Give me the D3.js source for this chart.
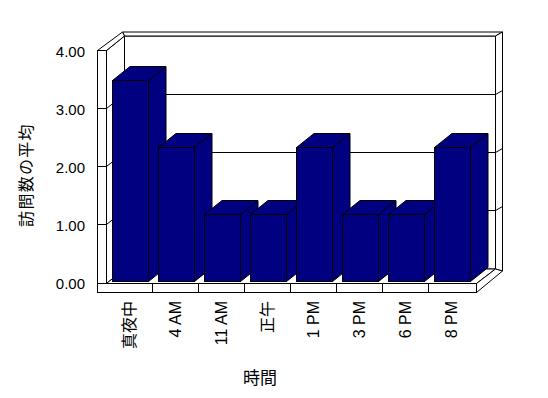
<!DOCTYPE html>
<html>
<head>
<meta charset="utf-8">
<script src="https://cdn.jsdelivr.net/npm/d3@7"></script>
<style>
  body { margin: 0; background: #fff; }
  svg { display: block; }
</style>
</head>
<body>
<div id="chart"></div>
<script>

// chart data
let categories = ["真夜中", "4 AM", "11 AM", "正午", "1 PM", "3 PM", "6 PM", "8 PM"];
let values = [3.5, 2.33, 1.17, 1.17, 2.33, 1.17, 1.17, 2.33];
let tickValues = [0, 1, 2, 3, 4];
let yTitle = "訪問数の平均";
let xTitle = "時間";

let width = 548,
    height = 398;

let latin = "'Liberation Sans', Arial, sans-serif",
    cjk = "'Noto Sans CJK JP', sans-serif";

// frame geometry (front plane / back plane)
let outerL = 97, innerL = 106, frontR = 476,
    backL = 124, backR = 495, backOuter = 502,
    depth = [18, -14.5],       // front -> back wall
    barDepth = [17.5, -14];

let navy = "#000080";

let x = d3.scaleBand()
    .domain(categories)
    .range([innerL, innerL + 46 * categories.length]);

let yFront = d3.scaleLinear().domain([0, 4]).range([282, 50]);
let yBack = d3.scaleLinear().domain([0, 4]).range([282 + depth[1], 50 + depth[1]]);
let yBar = d3.scaleLinear().domain([0, 4]).range([281, 51]);

let svg = d3.select("#chart")
    .append("svg")
    .attr("width", width)
    .attr("height", height);

let frame = svg.append("g")
    .attr("fill", "#fff")
    .attr("stroke", "#000")
    .attr("stroke-width", 1);

let top4 = yFront(4), topB = yBack(4), floorF = yFront(0) + 1, floorB = yBack(0) + 1;
let pts = arr => arr.map(p => [p[0] + 0.5, p[1] + 0.5]).join(" ");

// back wall face
frame.append("rect")
    .attr("x", backL + 0.5).attr("y", topB + 0.5)
    .attr("width", backR - backL).attr("height", floorB - topB);

// back wall top slab + right slab
frame.append("polygon")
    .attr("points", pts([[outerL + 25, topB - 4], [backOuter, topB - 4], [backR, topB], [backL, topB]]));
frame.append("polygon")
    .attr("points", pts([[backR, topB], [backOuter, topB - 4], [backOuter, floorB + 2], [backR, floorB]]));

// left wall: inner face, top slab, front edge
frame.append("polygon")
    .attr("points", pts([[innerL, top4], [backL, topB], [backL, floorB], [innerL, floorF]]));
frame.append("polygon")
    .attr("points", pts([[outerL, top4], [outerL + 25, topB - 4], [backL, topB], [innerL, top4]]));
frame.append("rect")
    .attr("x", outerL + 0.5).attr("y", top4 + 0.5)
    .attr("width", innerL - outerL).attr("height", floorF - top4 + 9);

// gridlines with ticks on the left wall
frame.selectAll(".grid")
    .data(tickValues.filter(d => d > 0 && d < 4))
    .join("path")
    .attr("class", "grid")
    .attr("fill", "none")
    .attr("d", d => {
        let yf = Math.round(yFront(d)) + 0.5, yb = Math.round(yBack(d)) + 0.5;
        return `M${outerL + 0.5},${yf}H${innerL + 0.5}L${backL + 0.5},${yb}H${backR + 0.5}L${backOuter + 0.5},${yb - 4}`;
    });

// floor slab
frame.append("polygon")
    .attr("points", pts([[innerL, floorF], [frontR, floorF], [backR, floorB], [backL, floorB]]));
frame.append("polygon")
    .attr("points", pts([[frontR, floorF], [backR, floorB], [backOuter, floorB + 2], [frontR, floorF + 9]]));
frame.append("rect")
    .attr("x", outerL + 0.5).attr("y", floorF + 0.5)
    .attr("width", frontR - outerL).attr("height", 9);

frame.selectAll(".sep")
    .data(categories.slice(1))
    .join("line")
    .attr("class", "sep")
    .attr("x1", d => x(d) + 0.5).attr("x2", d => x(d) + 0.5)
    .attr("y1", floorF + 0.5).attr("y2", floorF + 9.5);

// bars
let bar = svg.append("g")
    .attr("fill", navy)
    .attr("stroke", "#000")
    .selectAll("g")
    .data(categories.map((c, i) => ({ c, v: values[i] })))
    .join("g");

let bx = d => Math.round(x(d.c)) + 6.5,
    bw = 36,
    by = d => Math.round(yBar(d.v)) + 0.5,
    bb = yBar(0) + 0.5;

bar.append("polygon")
    .attr("points", d => [[bx(d) + bw, bb], [bx(d) + bw, by(d)], [bx(d) + bw + barDepth[0], by(d) + barDepth[1]], [bx(d) + bw + barDepth[0], bb + barDepth[1]]].join(" "));
bar.append("polygon")
    .attr("points", d => [[bx(d), by(d)], [bx(d) + barDepth[0], by(d) + barDepth[1]], [bx(d) + bw + barDepth[0], by(d) + barDepth[1]], [bx(d) + bw, by(d)]].join(" "));
bar.append("rect")
    .attr("x", bx).attr("y", by)
    .attr("width", bw).attr("height", d => bb - by(d));

// value axis labels
let yAxis = svg.append("g")
    .attr("transform", "translate(85,2)")
    .call(d3.axisLeft(yFront).tickValues(tickValues).tickFormat(d3.format(".2f")).tickSize(0).tickPadding(0));
yAxis.select(".domain").remove();
yAxis.selectAll("text")
    .style("font-size", "15px")
    .style("font-family", latin);

// category labels
let xAxis = svg.append("g")
    .attr("transform", "translate(0,301)")
    .call(d3.axisBottom(x).tickSize(0).tickPadding(0));
xAxis.select(".domain").remove();
xAxis.selectAll("text")
    .style("font-size", "16px")
    .style("font-family", d => /[^\x00-\x7f]/.test(d) ? cjk : latin)
    .attr("transform", "rotate(-90)")
    .attr("x", 0).attr("y", 0).attr("dy", "0.35em")
    .attr("text-anchor", "end");

// titles
svg.append("text")
    .attr("transform", "translate(26,175) rotate(-90)")
    .attr("text-anchor", "middle")
    .attr("dy", "0.35em")
    .style("font-family", cjk)
    .style("font-size", "16px")
    .style("letter-spacing", "1.3px")
    .text(yTitle);

svg.append("text")
    .attr("x", 260).attr("y", 378)
    .attr("text-anchor", "middle")
    .attr("dy", "0.35em")
    .style("font-family", cjk)
    .style("font-size", "17px")
    .text(xTitle);

</script>
</body>
</html>
